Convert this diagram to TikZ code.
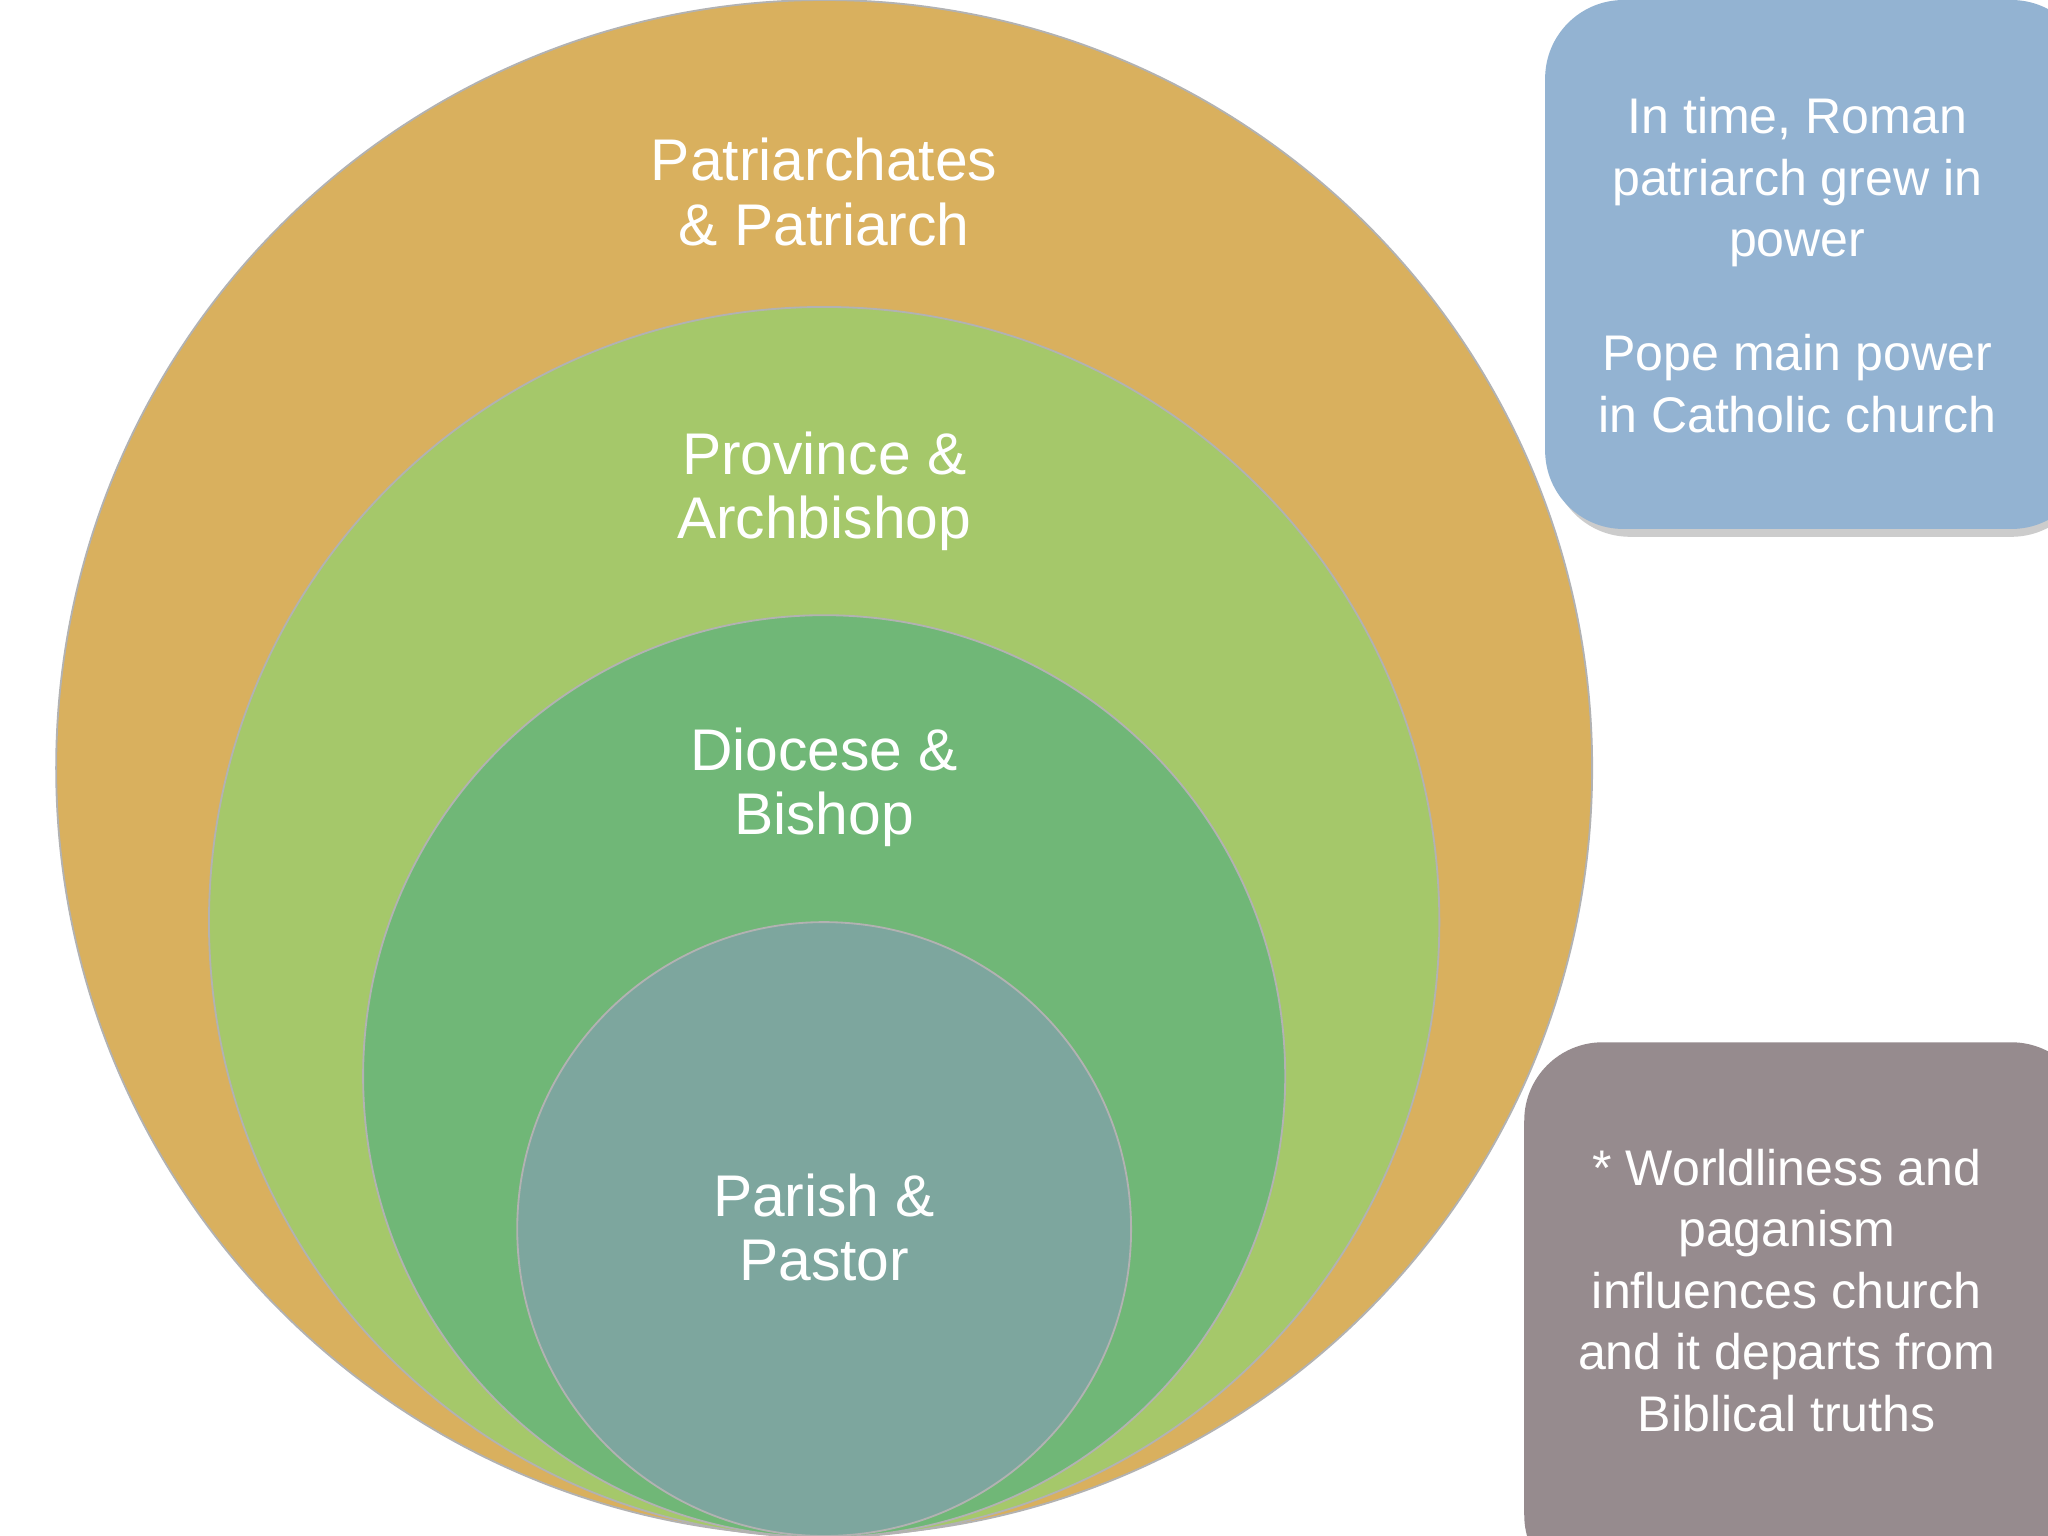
\documentclass[tikz,border=0pt]{standalone}
\usepackage{fontspec}
\setmainfont{Liberation Sans}
\begin{document}
\begin{tikzpicture}[x=0.01cm,y=-0.01cm,
  lab/.style={text=white,align=center,font=\fontsize{12.8}{14}\selectfont},
  side/.style={text=white,align=center,font=\fontsize{10.9}{13.4}\selectfont},
  ring/.style={draw=black!30,line width=0.4pt}]
\useasboundingbox (0,0) rectangle (1568,1176);
\clip (0,0) rectangle (1568,1176);
\fill[white] (0,0) rectangle (1568,1176);
\definecolor{cA}{HTML}{D9B05E}
\definecolor{cB}{HTML}{A5C86A}
\definecolor{cC}{HTML}{70B777}
\definecolor{cD}{HTML}{7DA69E}
\definecolor{cE}{HTML}{93B3D2}
\definecolor{cF}{HTML}{968B8E}
\fill[ring,fill=cA] (631,588) circle (588);
\fill[ring,fill=cB] (631,706) circle (471);
\fill[ring,fill=cC] (631,824) circle (353);
\fill[ring,fill=cD] (631,941) circle (235);
\node[lab] (t1) at (631,147) {Patriarchates\\\& Patriarch};
\node[lab] (t2) at (631,376) {Province \&\\Archbishop};
\node[lab] (t3) at (631,603) {Diocese \&\\Bishop};
\node[lab] (t4) at (631,940) {Parish \&\\Pastor};
\fill[black!20,rounded corners=0.6cm] (1188,6) rectangle (1600,411);
\fill[cE,rounded corners=0.6cm] (1183,0) rectangle (1600,405);
\fill[black!20,rounded corners=0.6cm] (1172,804) rectangle (1600,1220);
\fill[cF,rounded corners=0.6cm] (1167,798) rectangle (1600,1220);
\node[side] (b1) at (1376,203) {In time, Roman\\patriarch grew in\\power\\[1.05em]Pope main power\\in Catholic church};
\node[side] (b2) at (1368,988) {* Worldliness and\\paganism\\influences church\\and it departs from\\Biblical truths};
\end{tikzpicture}
\end{document}
